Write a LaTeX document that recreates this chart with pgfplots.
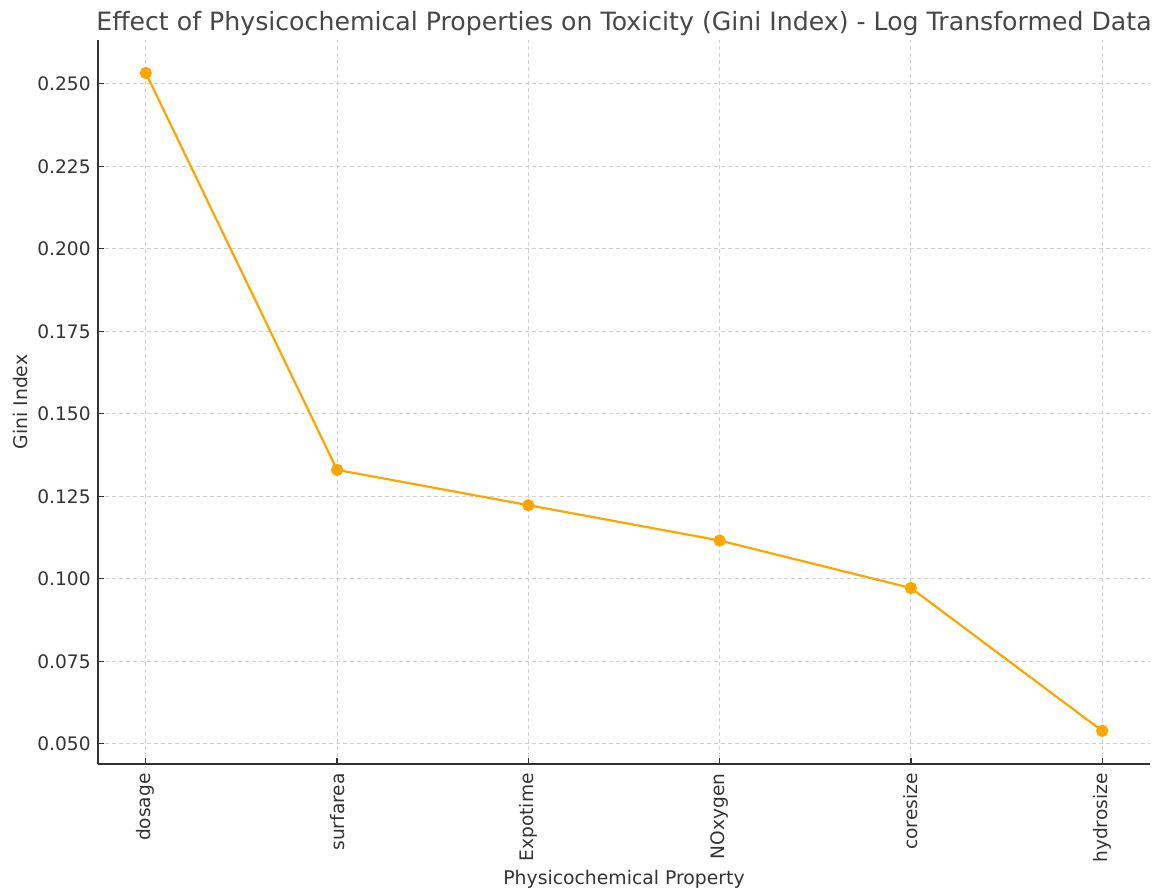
\documentclass[border=0pt]{standalone}
\usepackage{fontspec}
\setmainfont{DejaVu Sans}
\usepackage{pgfplots}
\pgfplotsset{compat=1.18}
\definecolor{txt}{HTML}{333333}
\definecolor{ln}{HTML}{FFA500}
\begin{document}
\begin{tikzpicture}
\path[use as bounding box] (0,0) rectangle (577.5pt,445.5pt);
\begin{axis}[
  at={(49pt,63.5pt)}, anchor=south west,
  scale only axis, width=526pt, height=362pt,
  xmin=-0.25, xmax=5.25, ymin=0.04385, ymax=0.2633,
  axis x line*=bottom, axis y line*=left,
  axis line style={-, color=txt, line width=0.75pt},
  tick align=inside, major tick length=3pt,
  tick style={color=txt, line width=0.6pt},
  xtick={0,1,2,3,4,5},
  xticklabels={dosage,surfarea,Expotime,NOxygen,coresize,hydrosize},
  ytick={0.05,0.075,0.1,0.125,0.15,0.175,0.2,0.225,0.25},
  yticklabels={0.050,0.075,0.100,0.125,0.150,0.175,0.200,0.225,0.250},
  ticklabel style={font=\fontsize{9.3}{11}\selectfont, text=txt, inner sep=0pt},
  xticklabel style={rotate=90, anchor=east},
  xticklabel shift=4.5pt, yticklabel shift=3.5pt,
  grid=major,
  major grid style={dash pattern=on 2pt off 1.5pt, color=black!18, line width=0.45pt},
  title={Effect of Physicochemical Properties on Toxicity (Gini Index) - Log Transformed Data},
  title style={font=\fontsize{12.6}{14}\selectfont, text=txt!90, at={(axis description cs:0.5,1)}, anchor=base, yshift=-1pt},
  xlabel={Physicochemical Property},
  ylabel={Gini Index},
  label style={font=\fontsize{9.4}{11}\selectfont, text=txt},
  xlabel style={at={(axis description cs:0.5,-0.1588)}, anchor=center},
  ylabel style={at={(axis description cs:-0.0741,0.5)}, anchor=center},
]
\addplot[color=ln, line width=1.1pt, mark=*, mark size=2.5pt, mark options={fill=ln, draw=ln}]
  coordinates {(0,0.2533) (1,0.1330) (2,0.1223) (3,0.1116) (4,0.0972) (5,0.0539)};
\end{axis}
\end{tikzpicture}
\end{document}
